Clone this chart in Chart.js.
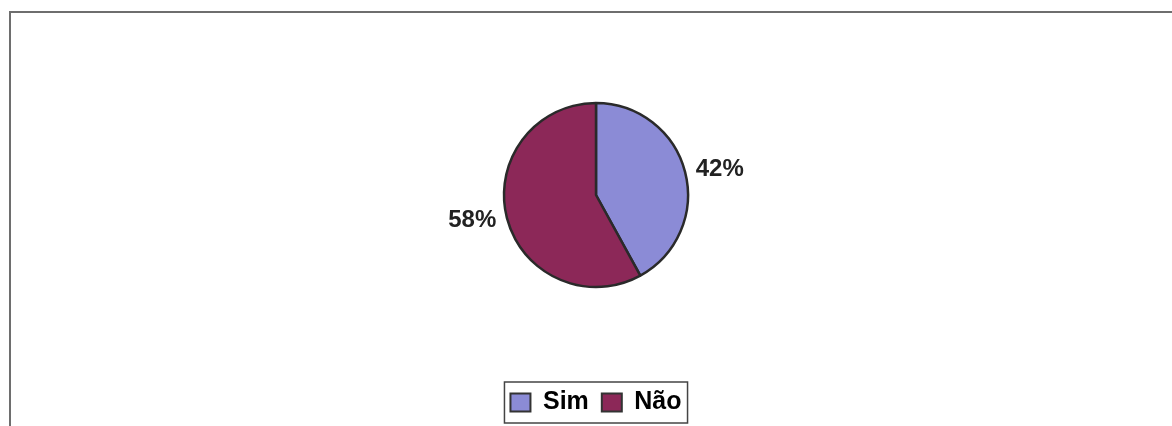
<!DOCTYPE html>
<html>
<head>
<meta charset="utf-8">
<script src="https://cdn.jsdelivr.net/npm/chart.js@4"></script>
<style>
  html, body { margin: 0; padding: 0; background: #fff; overflow: hidden; width: 1172px; height: 426px; }
  .frame {
    position: absolute; left: 9px; top: 11px;
    width: 1190px; height: 440px;
    border: 2px solid #6e6e6e; box-sizing: border-box;
  }
  .wrap { position: absolute; left: -1px; top: 0; width: 1172px; height: 413px; }
</style>
</head>
<body>
<div class="frame">
  <div class="wrap"><canvas id="pie" width="1172" height="413"></canvas></div>
</div>
<script>
const categories = ["Sim", "Não"];
const values = [42, 58];
const colors = ["#8b8bd6", "#8c2858"];

// percentage labels outside each slice
const pctLabels = {
  id: "pctLabels",
  afterDatasetsDraw(chart) {
    const ctx = chart.ctx;
    const meta = chart.getDatasetMeta(0);
    const total = values.reduce((a, b) => a + b, 0);
    ctx.save();
    ctx.font = "bold 24px 'Liberation Sans', Arial, sans-serif";
    ctx.fillStyle = "#222";
    ctx.textBaseline = "middle";
    meta.data.forEach((arc, i) => {
      const p = arc.getProps(["x", "y", "startAngle", "endAngle", "outerRadius"], true);
      const mid = (p.startAngle + p.endAngle) / 2;
      const r = p.outerRadius + 11;
      const cos = Math.cos(mid), sin = Math.sin(mid);
      ctx.textAlign = cos >= 0 ? "left" : "right";
      const pct = Math.round(values[i] / total * 100) + "%";
      ctx.fillText(pct, p.x + r * cos, p.y + r * sin);
    });
    ctx.restore();
  }
};

// frame around the legend
const legendBox = {
  id: "legendBox",
  afterDraw(chart) {
    const boxes = chart.legend && chart.legend.legendHitBoxes;
    if (!boxes || !boxes.length) return;
    const left = Math.min(...boxes.map(b => b.left)) - 6;
    const right = Math.max(...boxes.map(b => b.left + b.width)) + 6;
    const top = Math.min(...boxes.map(b => b.top)) - 8;
    const bottom = Math.max(...boxes.map(b => b.top + b.height)) + 8;
    const ctx = chart.ctx;
    ctx.save();
    ctx.strokeStyle = "#444";
    ctx.lineWidth = 1.5;
    ctx.strokeRect(left, top, right - left, bottom - top);
    ctx.restore();
  }
};

new Chart(document.getElementById("pie"), {
  type: "pie",
  data: {
    labels: categories,
    datasets: [{
      data: values,
      backgroundColor: colors,
      borderColor: "#2a2a2a",
      borderWidth: 2.5
    }]
  },
  options: {
    responsive: false,
    animation: false,
    radius: 92,
    layout: { padding: { top: 0, bottom: 1, left: 0, right: 0 } },
    plugins: {
      tooltip: { enabled: false },
      legend: {
        position: "bottom",
        labels: {
          boxWidth: 20,
          boxHeight: 18,
          padding: 13,
          color: "#222",
          font: { family: "'Liberation Sans', Arial, sans-serif", size: 25, weight: "bold" },
          generateLabels(chart) {
            return categories.map((c, i) => ({
              text: c,
              fillStyle: colors[i],
              strokeStyle: "#333",
              lineWidth: 2,
              index: i
            }));
          }
        }
      }
    }
  },
  plugins: [pctLabels, legendBox]
});
</script>
</body>
</html>
